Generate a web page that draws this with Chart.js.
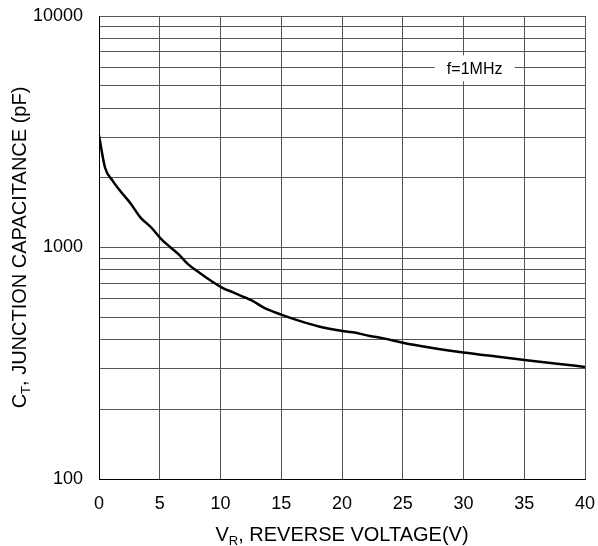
<!DOCTYPE html>
<html>
<head>
<meta charset="utf-8">
<script src="https://cdn.jsdelivr.net/npm/chart.js@4.4.1/dist/chart.umd.min.js"></script>
<style>
  html, body { margin: 0; padding: 0; background: #fff; }
  #wrap { width: 598px; height: 546px; }
</style>
</head>
<body>
<div id="wrap"><canvas id="chart" width="598" height="546"></canvas></div>
<script>
// reverse voltage (V) and junction capacitance (pF)
const voltage = [0, 0.5, 1.1, 1.8, 2.6, 3.4, 4.3, 5.1, 5.9, 6.6, 7.3, 8.3, 9.3, 10.2, 11.0, 12.6, 13.6, 15.0,
                 16.5, 18.1, 19.8, 20.9, 22.3, 23.4, 25.0, 27.2, 30.0, 32.7, 35.2, 37.7, 40];
const capacitance = [3050, 2210, 1950, 1740, 1550, 1350, 1220, 1090, 1000, 930, 850, 776, 713, 667, 641, 589, 549, 513,
                     482, 456, 438, 430, 415, 405, 388, 370, 352, 338, 326, 315, 305];

const xTicks = [0, 5, 10, 15, 20, 25, 30, 35, 40];
const yGrid = [100, 200, 300, 400, 500, 600, 700, 800, 900,
               1000, 2000, 3000, 4000, 5000, 6000, 7000, 8000, 9000, 10000];
const yLabels = [100, 1000, 10000];

const noteText = 'f=1MHz';
const noteAt = { x: 31, y: 6000 };

const FONT = '"Liberation Sans", Arial, sans-serif';

// draws a label like C + subscript T + rest, starting at x, baseline y
function drawSubLabel(ctx, main, sub, rest, x, y) {
    ctx.font = '20px ' + FONT;
    ctx.fillText(main, x, y);
    const w1 = ctx.measureText(main).width;
    ctx.font = '13px ' + FONT;
    ctx.fillText(sub, x + w1, y + 4);
    const w2 = ctx.measureText(sub).width;
    ctx.font = '20px ' + FONT;
    ctx.fillText(rest, x + w1 + w2, y);
}

function subLabelWidth(ctx, main, sub, rest) {
    ctx.font = '20px ' + FONT;
    const a = ctx.measureText(main).width + ctx.measureText(rest).width;
    ctx.font = '13px ' + FONT;
    return a + ctx.measureText(sub).width;
}

const textPlugin = {
    id: 'textPlugin',
    afterDraw(chart) {
        const ctx = chart.ctx;
        const xs = chart.scales.x;
        const ys = chart.scales.y;
        ctx.save();

        // note box over the grid
        const nx = xs.getPixelForValue(noteAt.x);
        const ny = ys.getPixelForValue(noteAt.y);
        ctx.fillStyle = '#fff';
        ctx.fillRect(nx - 41, ny - 12, 80, 26);
        ctx.fillStyle = '#000';
        ctx.font = '16px ' + FONT;
        ctx.textAlign = 'center';
        ctx.textBaseline = 'middle';
        ctx.fillText(noteText, nx - 1, ny + 2);

        ctx.textAlign = 'left';
        ctx.textBaseline = 'alphabetic';

        // x axis title
        const wx = subLabelWidth(ctx, 'V', 'R', ', REVERSE VOLTAGE(V)');
        drawSubLabel(ctx, 'V', 'R', ', REVERSE VOLTAGE(V)', (xs.left + xs.right) / 2 - wx / 2, 541);

        // y axis title, rotated
        const wy = subLabelWidth(ctx, 'C', 'T', ', JUNCTION CAPACITANCE (pF)');
        ctx.translate(26, (ys.top + ys.bottom) / 2);
        ctx.rotate(-Math.PI / 2);
        drawSubLabel(ctx, 'C', 'T', ', JUNCTION CAPACITANCE (pF)', -wy / 2, 0);

        ctx.restore();
    }
};

new Chart(document.getElementById('chart').getContext('2d'), {
    type: 'line',
    data: {
        datasets: [{
            data: voltage.map((v, i) => ({ x: v, y: capacitance[i] })),
            borderColor: '#000',
            borderWidth: 2.5,
            pointRadius: 0,
            fill: false,
            cubicInterpolationMode: 'monotone'
        }]
    },
    options: {
        responsive: false,
        animation: false,
        layout: { padding: { top: 16, right: 13, left: 0, bottom: 0 } },
        plugins: {
            legend: { display: false },
            tooltip: { enabled: false }
        },
        scales: {
            x: {
                type: 'linear',
                min: 0,
                max: 40,
                afterBuildTicks: (scale) => { scale.ticks = xTicks.map(v => ({ value: v })); },
                afterFit: (scale) => {
                    scale.height = 67;
                    scale.paddingLeft = 0;
                    scale.paddingRight = 0;
                },
                grid: { color: '#555', lineWidth: 1, drawTicks: false },
                border: { color: '#000', width: 1 },
                ticks: {
                    color: '#000',
                    padding: 14,
                    maxRotation: 0,
                    autoSkip: false,
                    font: { family: FONT, size: 18 }
                }
            },
            y: {
                type: 'logarithmic',
                min: 100,
                max: 10000,
                afterBuildTicks: (scale) => { scale.ticks = yGrid.map(v => ({ value: v })); },
                afterFit: (scale) => {
                    scale.width = 99;
                    scale.paddingTop = 0;
                    scale.paddingBottom = 0;
                },
                grid: { color: '#555', lineWidth: 1, drawTicks: false },
                border: { color: '#000', width: 1 },
                ticks: {
                    color: '#000',
                    padding: 16,
                    autoSkip: false,
                    font: { family: FONT, size: 18 },
                    callback: (value) => yLabels.includes(value) ? String(value) : ''
                }
            }
        }
    },
    plugins: [textPlugin]
});
</script>
</body>
</html>
